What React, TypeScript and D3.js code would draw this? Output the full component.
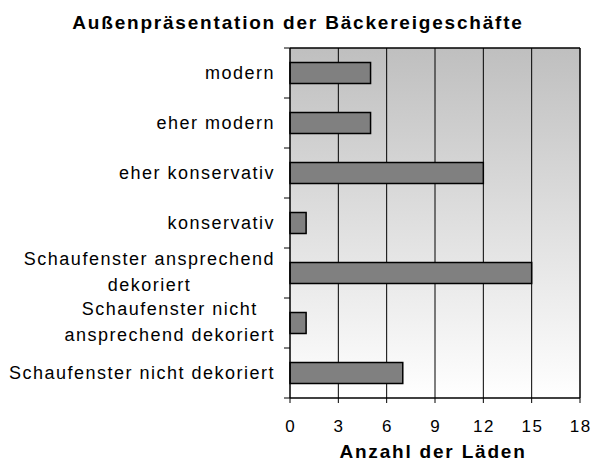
import React from "react";
import * as d3 from "d3";

const categories: string[][] = [
  ["modern"],
  ["eher modern"],
  ["eher konservativ"],
  ["konservativ"],
  ["Schaufenster ansprechend", "dekoriert"],
  ["Schaufenster nicht", "ansprechend dekoriert"],
  ["Schaufenster nicht dekoriert"],
];
const values = [5, 5, 12, 1, 15, 1, 7];
const xTicks = [0, 3, 6, 9, 12, 15, 18];
const title = "Außenpräsentation der Bäckereigeschäfte";
const xTitle = "Anzahl der Läden";

const FONT = "'Liberation Sans', Arial, sans-serif";
const CAT_SIZE = 18;
const CAT_LS = 1.5;

let ctx: CanvasRenderingContext2D | null = null;
function measure(s: string, size: number, ls: number) {
  if (!ctx) ctx = document.createElement("canvas").getContext("2d");
  ctx!.font = `${size}px 'Liberation Sans', Arial, sans-serif`;
  return ctx!.measureText(s).width + ls * s.length;
}

export default function App() {
  const W = 592, H = 462;
  const left = 290, right = 580, top = 48, bottom = 398;
  const x = d3.scaleLinear().domain([0, 18]).range([left, right]);
  const y = d3.scaleBand<number>().domain(d3.range(categories.length)).range([top, bottom]).paddingInner(0.58).paddingOuter(0.29);
  const band = (bottom - top) / categories.length;
  const labelRight = 273.5;
  return (
    <svg width={W} height={H} style={{ position: "absolute", left: 0, top: 0 }} fontFamily={FONT}>
      <defs>
        <linearGradient id="bg" x1="0" y1="0" x2="0" y2="1">
          <stop offset="0" stopColor="#bfbfbf" />
          <stop offset="1" stopColor="#ffffff" />
        </linearGradient>
      </defs>
      <rect x={0} y={0} width={W} height={H} fill="#fff" />
      <text x={298} y={29} textAnchor="middle" fontWeight="bold" fontSize={19} letterSpacing={1.8} fill="#000">{title}</text>
      <rect x={left} y={top} width={right - left} height={bottom - top} fill="url(#bg)" />
      {xTicks.slice(1, -1).map((t) => (
        <line key={"g" + t} x1={x(t)} x2={x(t)} y1={top} y2={bottom} stroke="#000" strokeWidth={1} />
      ))}
      {values.map((v, i) => (
        <rect key={"b" + i} x={x(0)} y={y(i)!} width={x(v) - x(0)} height={y.bandwidth()} fill="#808080" stroke="#000" strokeWidth={1.5} />
      ))}
      <line x1={left} x2={right} y1={top} y2={top} stroke="#000" strokeWidth={1.5} />
      <line x1={right} x2={right} y1={top} y2={bottom} stroke="#000" strokeWidth={1.5} />
      <line x1={left} x2={right} y1={bottom} y2={bottom} stroke="#000" strokeWidth={1.5} />
      <line x1={left} x2={left} y1={top} y2={bottom} stroke="#000" strokeWidth={1.5} />
      {d3.range(categories.length + 1).map((k) => (
        <line key={"yt" + k} x1={left - 6} x2={left} y1={top + k * band} y2={top + k * band} stroke="#000" strokeWidth={1} />
      ))}
      {xTicks.map((t) => (
        <g key={"xt" + t}>
          <line x1={x(t)} x2={x(t)} y1={bottom} y2={bottom + 5} stroke="#000" strokeWidth={1} />
          <text x={x(t) + 0.75} y={432} textAnchor="middle" fontSize={17} letterSpacing={1.5} fill="#000">{t}</text>
        </g>
      ))}
      <text x={433} y={458} textAnchor="middle" fontWeight="bold" fontSize={19} letterSpacing={1.8} fill="#000">{xTitle}</text>
      {categories.map((lines, i) => {
        const cy = top + (i + 0.5) * band;
        if (lines.length === 1) {
          return <text key={"c" + i} x={labelRight + CAT_LS} y={cy + 5.5} textAnchor="end" fontSize={CAT_SIZE} letterSpacing={CAT_LS} fill="#000">{lines[0]}</text>;
        }
        const widths = lines.map((l) => measure(l, CAT_SIZE, CAT_LS) - CAT_LS);
        const maxW = Math.max(...widths);
        const cx = labelRight - maxW / 2;
        return (
          <text key={"c" + i} fontSize={CAT_SIZE} letterSpacing={CAT_LS} fill="#000">
            {lines.map((l, j) => (
              <tspan key={j} x={cx - widths[j] / 2} y={cy - 8.5 + j * 26.7}>{l}</tspan>
            ))}
          </text>
        );
      })}
    </svg>
  );
}
